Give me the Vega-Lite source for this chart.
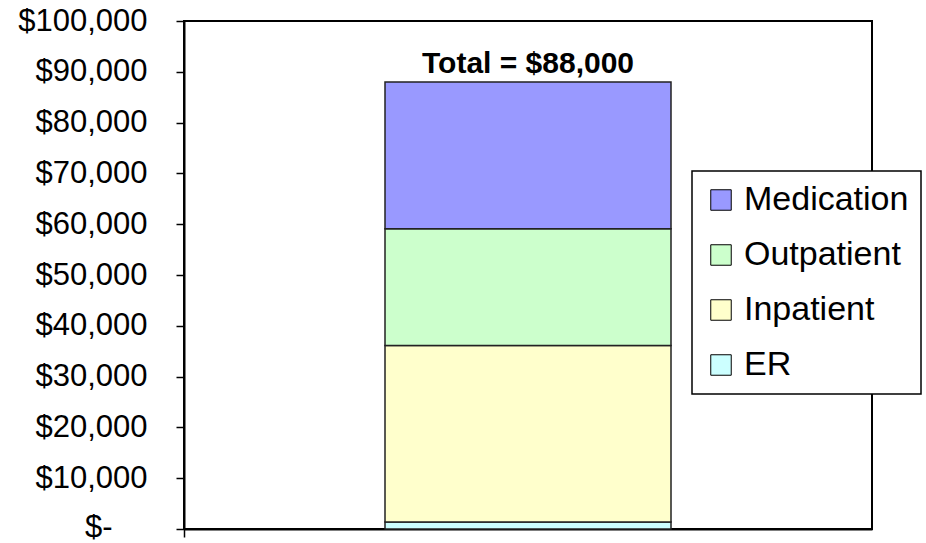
{
  "$schema": "https://vega.github.io/schema/vega-lite/v6.json",
  "autosize": {"type": "none"},
  "width": 688,
  "height": 508,
  "padding": {"left": 184, "top": 21, "right": 54, "bottom": 14},
  "background": "white",
  "config": {
    "font": "Liberation Sans",
    "view": {"stroke": "#000000", "strokeWidth": 2},
    "axis": {"grid": false}
  },
  "data": {
    "values": [
      {"category": "Cost", "service": "ER", "cost": 1400},
      {"category": "Cost", "service": "Inpatient", "cost": 34700},
      {"category": "Cost", "service": "Outpatient", "cost": 23000},
      {"category": "Cost", "service": "Medication", "cost": 28900}
    ]
  },
  "encoding": {
    "x": {
      "field": "category",
      "type": "nominal",
      "scale": {"paddingInner": 0, "paddingOuter": 0},
      "axis": {
        "title": null,
        "labels": false,
        "ticks": true,
        "bandPosition": 0,
        "tickSize": 8,
        "tickColor": "#000000",
        "tickWidth": 1.5,
        "domainColor": "#000000",
        "domainWidth": 2
      }
    }
  },
  "layer": [
    {
      "transform": [
        {"calculate": "indexof(['ER','Inpatient','Outpatient','Medication'], datum.service)", "as": "stackOrder"}
      ],
      "mark": {"type": "bar", "width": 286, "stroke": "#222222", "strokeWidth": 1.5},
      "encoding": {
        "y": {
          "field": "cost",
          "type": "quantitative",
          "stack": "zero",
          "scale": {"domain": [0, 100000], "nice": false},
          "axis": {
            "title": null,
            "values": [0, 10000, 20000, 30000, 40000, 50000, 60000, 70000, 80000, 90000, 100000],
            "labelExpr": "datum.value === 0 ? '$-' : '$' + format(datum.value, ',')",
            "labelFontSize": 31,
            "labelColor": "#000000",
            "labelPadding": {"condition": {"test": "datum.value === 0", "value": 64}, "value": 29},
            "labelOffset": {"condition": {"test": "datum.value === 0", "value": -2}, "value": 0},
            "tickSize": 8,
            "tickColor": "#000000",
            "tickWidth": 1.5,
            "domainColor": "#000000",
            "domainWidth": 2
          }
        },
        "color": {
          "field": "service",
          "type": "nominal",
          "scale": {
            "domain": ["Medication", "Outpatient", "Inpatient", "ER"],
            "range": ["#9999FF", "#CCFFCC", "#FFFFCC", "#CCFFFF"]
          },
          "legend": {
            "title": null,
            "orient": "none",
            "legendX": 508,
            "legendY": 150,
            "symbolType": "square",
            "symbolSize": 420,
            "symbolStrokeColor": "#000000",
            "symbolStrokeWidth": 1,
            "symbolOpacity": 1,
            "labelFontSize": 34,
            "labelColor": "#000000",
            "labelOffset": 6,
            "rowPadding": 21,
            "padding": 12,
            "fillColor": "#FFFFFF",
            "strokeColor": "#000000",
            "labelLimit": 400,
            "encode": {"legend": {"update": {"strokeWidth": {"value": 1.5}}}}
          }
        },
        "order": {"field": "stackOrder", "type": "quantitative", "sort": "ascending"}
      }
    },
    {
      "transform": [
        {"aggregate": [{"op": "sum", "field": "cost", "as": "total"}], "groupby": ["category"]},
        {"calculate": "'Total = ' + format(datum.total, '$,')", "as": "label"}
      ],
      "mark": {"type": "text", "fontSize": 30, "fontWeight": "bold", "baseline": "alphabetic", "dy": -9, "color": "#000000"},
      "encoding": {
        "y": {"field": "total", "type": "quantitative"},
        "text": {"field": "label", "type": "nominal"}
      }
    }
  ]
}
